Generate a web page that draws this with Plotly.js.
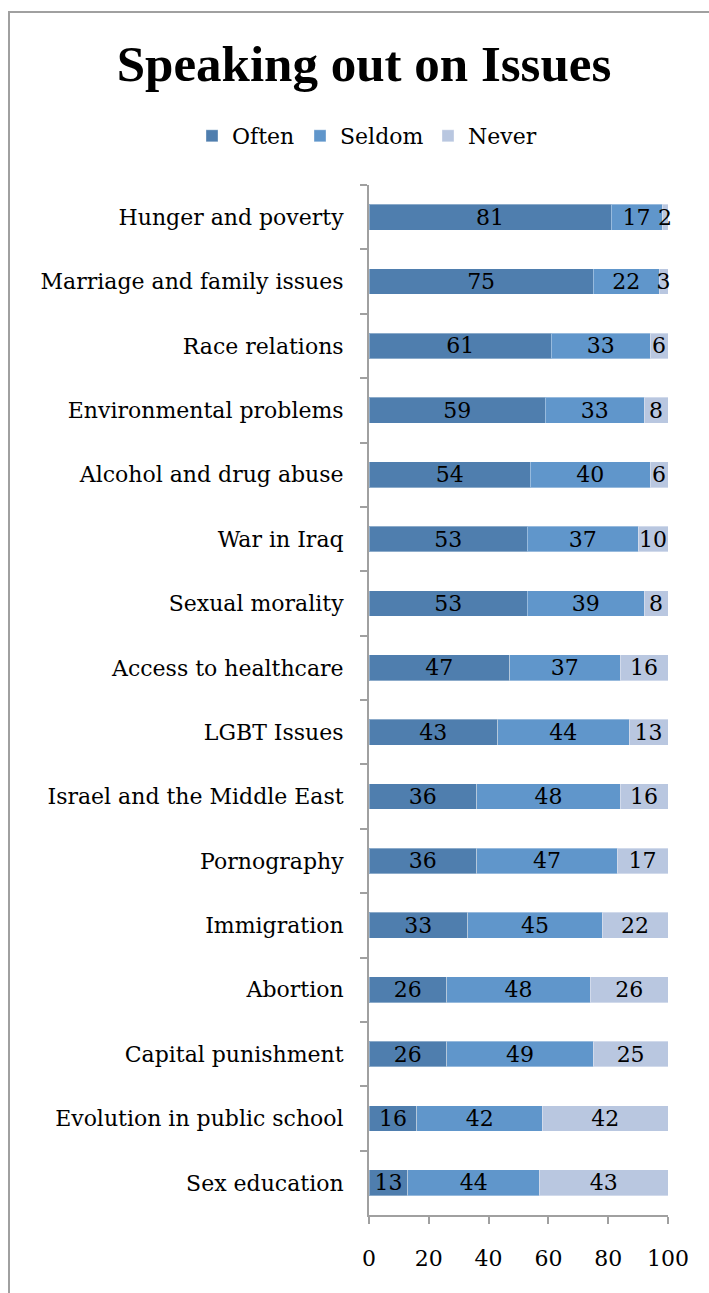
<!DOCTYPE html>
<html>
<head>
<meta charset="utf-8">
<script src="https://cdn.plot.ly/plotly-3.0.1.min.js"></script>
<style>
html,body{margin:0;padding:0;background:#fff;}
#wrap{position:relative;width:709px;height:1293px;overflow:hidden;}
#chart{position:absolute;left:0;top:0;width:709px;height:1293px;}
#frame{position:absolute;left:8px;top:11px;width:800px;height:1400px;border-left:2px solid #a0a0a0;border-top:2px solid #a0a0a0;pointer-events:none;}
</style>
</head>
<body>
<div id="wrap"><div id="chart"></div><div id="frame"></div></div>
<script>
const categories = ["Hunger and poverty","Marriage and family issues","Race relations","Environmental problems","Alcohol and drug abuse","War in Iraq","Sexual morality","Access to healthcare","LGBT Issues","Israel and the Middle East","Pornography","Immigration","Abortion","Capital punishment","Evolution in public school","Sex education"];
const often  = [81,75,61,59,54,53,53,47,43,36,36,33,26,26,16,13];
const seldom = [17,22,33,33,40,37,39,37,44,48,47,45,48,49,42,44];
const never  = [2,3,6,8,6,10,8,16,13,16,17,22,26,25,42,43];
const xTicks = [0,20,40,60,80,100];

const FONT = "DejaVu Serif";
function mk(name, vals, color, leg){
  return {
    type:'bar', orientation:'h', name:name, legend:leg,
    y:categories, x:vals, text:vals.map(String),
    textposition:'inside', insidetextanchor:'middle', constraintext:'none',
    textfont:{family:FONT, size:22, color:'#000'},
    marker:{color:color, line:{color:'rgba(255,255,255,0.35)', width:1}},
    hoverinfo:'none', cliponaxis:false
  };
}
const data = [
  mk('Often', often, '#4F7EAE', 'legend'),
  mk('Seldom', seldom, '#6096CB', 'legend2'),
  mk('Never', never, '#B9C7E0', 'legend3')
];
function leg(px){
  return {orientation:'h', x:px/709, xanchor:'left', y:1-136/1293, yanchor:'middle', xref:'container', yref:'container',
    font:{family:FONT, size:22, color:'#000'}, itemwidth:30, bgcolor:'rgba(0,0,0,0)', borderwidth:0};
}
const layout = {
  width:709, height:1293,
  margin:{l:369, r:41, t:185, b:78, pad:0},
  paper_bgcolor:'#fff', plot_bgcolor:'#fff',
  barmode:'stack', bargap:0.6,
  showlegend:true,
  legend:leg(192), legend2:leg(300), legend3:leg(428),
  title:{text:'<b>Speaking out on Issues</b>', x:364/709, xref:'container', xanchor:'center', y:1-63/1293, yref:'container', yanchor:'middle',
    font:{family:'Liberation Serif', size:51, color:'#000'}},
  xaxis:{range:[0,100], tickvals:xTicks, ticktext:xTicks.map(String), showgrid:false, zeroline:false,
    showline:true, linecolor:'#a0a0a0', linewidth:2, ticks:'outside', ticklen:7, tickwidth:2, tickcolor:'#a0a0a0',
    ticklabelstandoff:16,
    tickfont:{family:FONT, size:22, color:'#000'}, fixedrange:true},
  yaxis:{autorange:'reversed', type:'category', showgrid:false, zeroline:false,
    showline:true, linecolor:'#a0a0a0', linewidth:2, ticks:'outside', ticklen:7, tickwidth:2, tickcolor:'#a0a0a0',
    tickson:'boundaries', ticklabelstandoff:19, tickfont:{family:FONT, size:22, color:'#000'}, fixedrange:true}
};
Plotly.newPlot('chart', data, layout, {staticPlot:true, displayModeBar:false});
</script>
</body>
</html>
